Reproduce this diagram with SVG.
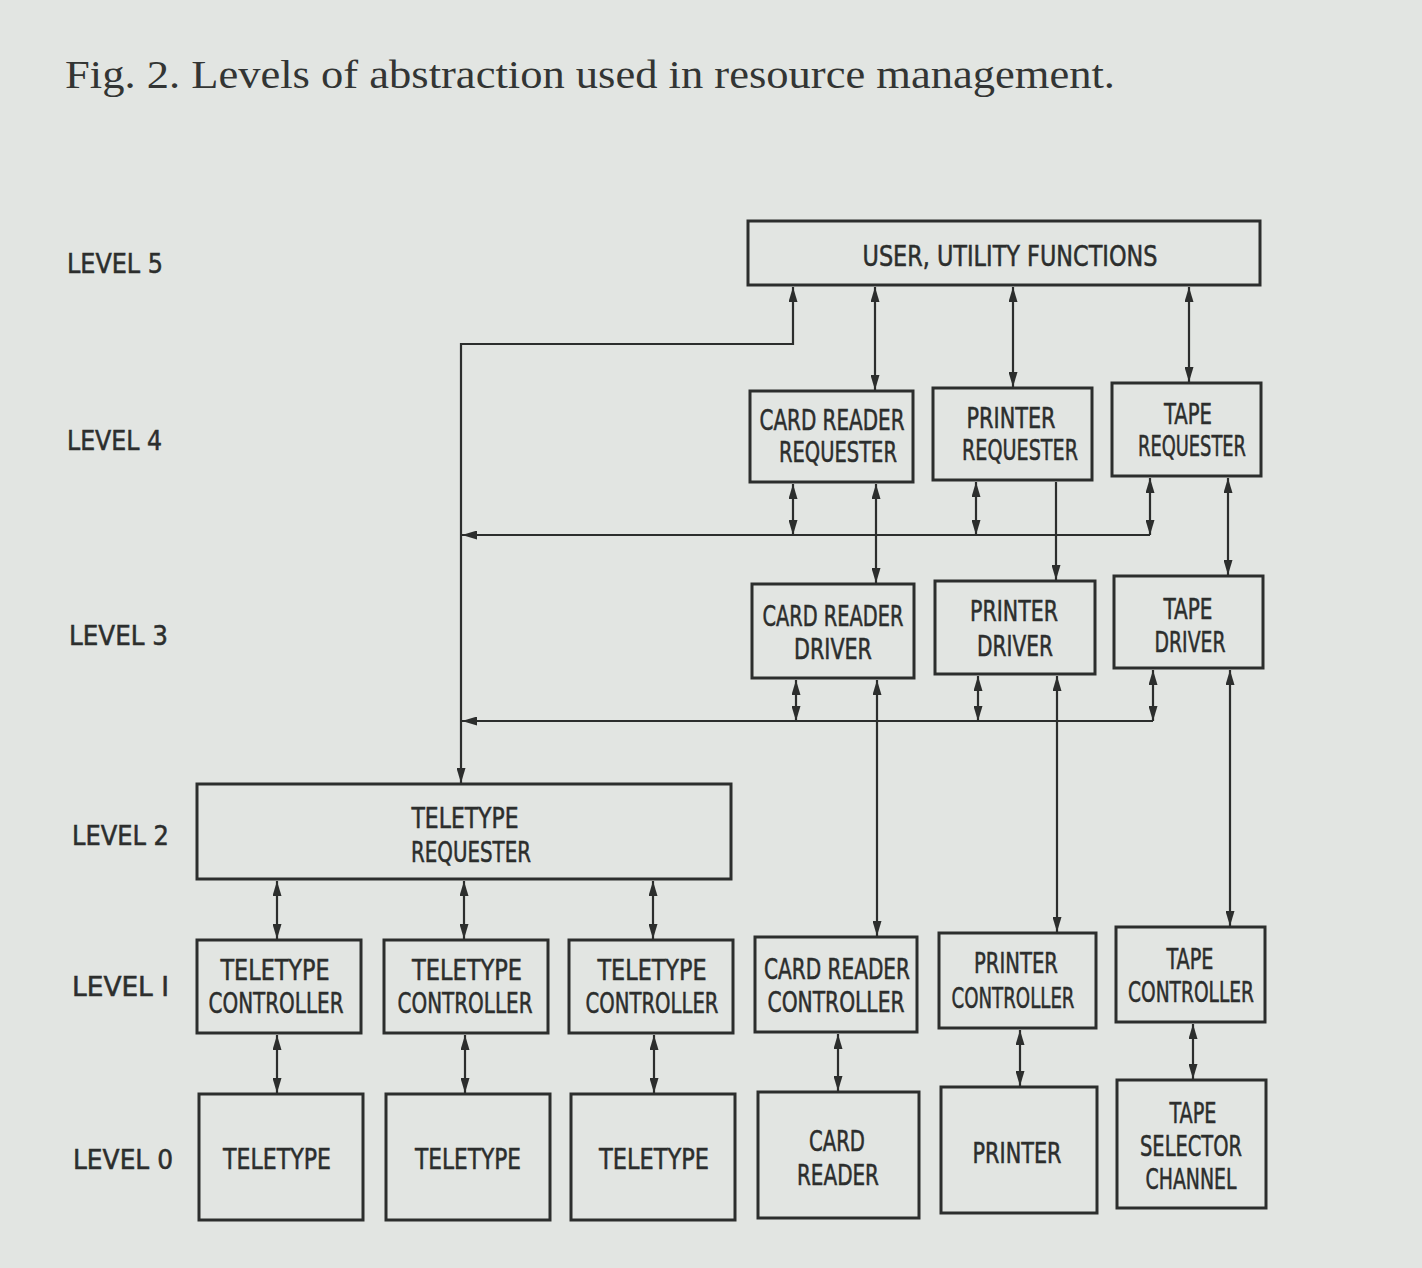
<svg xmlns="http://www.w3.org/2000/svg" width="1422" height="1268" viewBox="0 0 1422 1268">
<defs>
<style>
.bg{fill:#e2e5e2}
.box{fill:none;stroke:#2c2e2d;stroke-width:3}
.t{font-family:"DejaVu Sans Condensed","Liberation Sans Narrow","Liberation Sans",sans-serif;font-size:28px;fill:#2c2e2d;stroke:#2c2e2d;stroke-width:0.5;text-anchor:middle}
.lv{font-family:"DejaVu Sans Condensed","Liberation Sans Narrow","Liberation Sans",sans-serif;font-size:27px;fill:#2c2e2d;stroke:#2c2e2d;stroke-width:0.5}
.title{font-family:"Liberation Serif","Times New Roman",serif;font-size:40px;fill:#333534}
.c{fill:none;stroke:#2c2e2d;stroke-width:2.2}
.d{marker-start:url(#ah);marker-end:url(#ah)}
.e{marker-end:url(#ah)}
</style>
<marker id="ah" viewBox="0 0 15 9" refX="15" refY="4.5" markerWidth="15" markerHeight="9" markerUnits="userSpaceOnUse" orient="auto-start-reverse">
<path d="M0,0 L15,4.5 L0,9 z" fill="#2c2e2d"/>
</marker>
</defs>
<rect class="bg" x="0" y="0" width="1422" height="1268"/>
<text class="title" x="65" y="88" textLength="1050" lengthAdjust="spacingAndGlyphs">Fig. 2. Levels of abstraction used in resource management.</text>

<g id="levels">
<text class="lv" x="67" y="273" textLength="96" lengthAdjust="spacingAndGlyphs">LEVEL 5</text>
<text class="lv" x="67" y="450" textLength="95" lengthAdjust="spacingAndGlyphs">LEVEL 4</text>
<text class="lv" x="69" y="645" textLength="99" lengthAdjust="spacingAndGlyphs">LEVEL 3</text>
<text class="lv" x="72" y="845" textLength="97" lengthAdjust="spacingAndGlyphs">LEVEL 2</text>
<text class="lv" x="72" y="996" textLength="97" lengthAdjust="spacingAndGlyphs">LEVEL I</text>
<text class="lv" x="73" y="1169" textLength="100" lengthAdjust="spacingAndGlyphs">LEVEL 0</text>
</g>

<g id="user">
<rect class="box" x="748" y="221" width="512" height="64"/>
<text class="t" x="1010" y="266" textLength="295" lengthAdjust="spacingAndGlyphs">USER, UTILITY FUNCTIONS</text>
</g>
<g id="cr-req">
<rect class="box" x="750" y="391" width="163" height="91"/>
<text class="t" x="832" y="430" textLength="145" lengthAdjust="spacingAndGlyphs">CARD READER</text>
<text class="t" x="838" y="462" textLength="118" lengthAdjust="spacingAndGlyphs">REQUESTER</text>
</g>
<g id="pr-req">
<rect class="box" x="933" y="388" width="159" height="92"/>
<text class="t" x="1011" y="428" textLength="89" lengthAdjust="spacingAndGlyphs">PRINTER</text>
<text class="t" x="1020" y="460" textLength="116" lengthAdjust="spacingAndGlyphs">REQUESTER</text>
</g>
<g id="tape-req">
<rect class="box" x="1112" y="383" width="149" height="93"/>
<text class="t" x="1188" y="424" textLength="48" lengthAdjust="spacingAndGlyphs">TAPE</text>
<text class="t" x="1192" y="456" textLength="108" lengthAdjust="spacingAndGlyphs">REQUESTER</text>
</g>
<g id="cr-drv">
<rect class="box" x="752" y="584" width="162" height="94"/>
<text class="t" x="833" y="626" textLength="141" lengthAdjust="spacingAndGlyphs">CARD READER</text>
<text class="t" x="833" y="659" textLength="78" lengthAdjust="spacingAndGlyphs">DRIVER</text>
</g>
<g id="pr-drv">
<rect class="box" x="935" y="581" width="160" height="93"/>
<text class="t" x="1014" y="621" textLength="88" lengthAdjust="spacingAndGlyphs">PRINTER</text>
<text class="t" x="1015" y="656" textLength="76" lengthAdjust="spacingAndGlyphs">DRIVER</text>
</g>
<g id="tape-drv">
<rect class="box" x="1114" y="576" width="149" height="92"/>
<text class="t" x="1188" y="619" textLength="49" lengthAdjust="spacingAndGlyphs">TAPE</text>
<text class="t" x="1190" y="652" textLength="71" lengthAdjust="spacingAndGlyphs">DRIVER</text>
</g>
<g id="tt-req">
<rect class="box" x="197" y="784" width="534" height="95"/>
<text class="t" x="465" y="828" textLength="107" lengthAdjust="spacingAndGlyphs">TELETYPE</text>
<text class="t" x="471" y="862" textLength="120" lengthAdjust="spacingAndGlyphs">REQUESTER</text>
</g>
<g id="tt-ctrl-1">
<rect class="box" x="197" y="940" width="164" height="93"/>
<text class="t" x="275" y="980" textLength="109" lengthAdjust="spacingAndGlyphs">TELETYPE</text>
<text class="t" x="276" y="1013" textLength="135" lengthAdjust="spacingAndGlyphs">CONTROLLER</text>
</g>
<g id="tt-ctrl-2">
<rect class="box" x="384" y="940" width="164" height="93"/>
<text class="t" x="467" y="980" textLength="110" lengthAdjust="spacingAndGlyphs">TELETYPE</text>
<text class="t" x="465" y="1013" textLength="135" lengthAdjust="spacingAndGlyphs">CONTROLLER</text>
</g>
<g id="tt-ctrl-3">
<rect class="box" x="569" y="940" width="164" height="93"/>
<text class="t" x="652" y="980" textLength="109" lengthAdjust="spacingAndGlyphs">TELETYPE</text>
<text class="t" x="652" y="1013" textLength="133" lengthAdjust="spacingAndGlyphs">CONTROLLER</text>
</g>
<g id="cr-ctrl">
<rect class="box" x="755" y="937" width="162" height="95"/>
<text class="t" x="837" y="979" textLength="146" lengthAdjust="spacingAndGlyphs">CARD READER</text>
<text class="t" x="836" y="1012" textLength="137" lengthAdjust="spacingAndGlyphs">CONTROLLER</text>
</g>
<g id="pr-ctrl">
<rect class="box" x="939" y="933" width="157" height="95"/>
<text class="t" x="1016" y="973" textLength="84" lengthAdjust="spacingAndGlyphs">PRINTER</text>
<text class="t" x="1013" y="1008" textLength="123" lengthAdjust="spacingAndGlyphs">CONTROLLER</text>
</g>
<g id="tape-ctrl">
<rect class="box" x="1116" y="927" width="149" height="95"/>
<text class="t" x="1190" y="969" textLength="47" lengthAdjust="spacingAndGlyphs">TAPE</text>
<text class="t" x="1191" y="1002" textLength="126" lengthAdjust="spacingAndGlyphs">CONTROLLER</text>
</g>
<g id="tt-1">
<rect class="box" x="199" y="1094" width="164" height="126"/>
<text class="t" x="277" y="1169" textLength="108" lengthAdjust="spacingAndGlyphs">TELETYPE</text>
</g>
<g id="tt-2">
<rect class="box" x="386" y="1094" width="164" height="126"/>
<text class="t" x="468" y="1169" textLength="106" lengthAdjust="spacingAndGlyphs">TELETYPE</text>
</g>
<g id="tt-3">
<rect class="box" x="571" y="1094" width="164" height="126"/>
<text class="t" x="654" y="1169" textLength="110" lengthAdjust="spacingAndGlyphs">TELETYPE</text>
</g>
<g id="card-reader">
<rect class="box" x="758" y="1092" width="161" height="126"/>
<text class="t" x="837" y="1151" textLength="56" lengthAdjust="spacingAndGlyphs">CARD</text>
<text class="t" x="838" y="1185" textLength="82" lengthAdjust="spacingAndGlyphs">READER</text>
</g>
<g id="printer">
<rect class="box" x="941" y="1087" width="156" height="126"/>
<text class="t" x="1017" y="1163" textLength="89" lengthAdjust="spacingAndGlyphs">PRINTER</text>
</g>
<g id="tape-sel">
<rect class="box" x="1117" y="1080" width="149" height="128"/>
<text class="t" x="1193" y="1123" textLength="47" lengthAdjust="spacingAndGlyphs">TAPE</text>
<text class="t" x="1191" y="1156" textLength="102" lengthAdjust="spacingAndGlyphs">SELECTOR</text>
<text class="t" x="1191" y="1189" textLength="91" lengthAdjust="spacingAndGlyphs">CHANNEL</text>
</g>

<g id="connectors">
<path class="c d" d="M793,287 V344 H461 V783"/>
<path class="c d" d="M875,287 V390"/>
<path class="c d" d="M1013,287 V387"/>
<path class="c d" d="M1189,287 V382"/>
<path class="c d" d="M793,484 V535"/>
<path class="c d" d="M976,482 V535"/>
<path class="c d" d="M1150,478 V535"/>
<path class="c e" d="M1150,535 H462"/>
<path class="c d" d="M876,484 V583"/>
<path class="c e" d="M1056,482 V580"/>
<path class="c d" d="M1228,478 V575"/>
<path class="c d" d="M796,680 V721"/>
<path class="c d" d="M978,676 V721"/>
<path class="c d" d="M1153,670 V721"/>
<path class="c e" d="M1153,721 H462"/>
<path class="c d" d="M877,680 V936"/>
<path class="c d" d="M1057,676 V932"/>
<path class="c d" d="M1230,670 V926"/>
<path class="c d" d="M277,881 V939"/>
<path class="c d" d="M464,881 V939"/>
<path class="c d" d="M653,881 V939"/>
<path class="c d" d="M277,1035 V1093"/>
<path class="c d" d="M465,1035 V1093"/>
<path class="c d" d="M654,1035 V1093"/>
<path class="c d" d="M838,1034 V1091"/>
<path class="c d" d="M1020,1030 V1086"/>
<path class="c d" d="M1193,1024 V1079"/>
</g>
</svg>
